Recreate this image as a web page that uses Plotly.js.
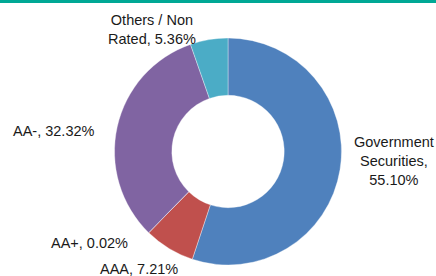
<!DOCTYPE html>
<html>
<head>
<meta charset="utf-8">
<script src="https://cdn.plot.ly/plotly-3.0.1.min.js"></script>
<style>
html,body{margin:0;padding:0;background:#fff;}
#chart{width:436px;height:276px;}
</style>
</head>
<body>
<div id="chart"></div>
<script>
var categories = ["Government Securities", "AAA", "AA+", "AA-", "Others / Non Rated"];
var values = [55.10, 7.21, 0.02, 32.32, 5.36];
var colors = ["#4F81BD", "#C0504D", "#E8B0B0", "#8064A2", "#4BACC6"];
var labelTexts = ["Government<br>Securities,", "AAA,", "AA+,", "AA-,", "Others / Non<br>Rated,"];
var labelJoin = ["<br>", " ", " ", " ", " "];
// label anchor positions in pixels (x, y from top)
var labelPos = [[394, 161], [139, 269], [89, 243], [54, 131], [152, 29]];

var W = 436, H = 276;
var annotations = categories.map(function (c, i) {
  return {
    text: labelTexts[i] + labelJoin[i] + values[i].toFixed(2) + "%",
    x: labelPos[i][0] / W, y: 1 - labelPos[i][1] / H,
    xref: "paper", yref: "paper",
    xanchor: "center", yanchor: "middle",
    showarrow: false, align: "center",
    font: {family: "Liberation Sans, Arial, sans-serif", size: 14.5, color: "#1a1a1a"}
  };
});
annotations.length; 

var shapes = [{
  type: "rect", xref: "paper", yref: "paper",
  x0: 0, x1: 1, y0: 1 - 3 / H, y1: 1,
  fillcolor: "#00A895", line: {width: 0}
}];

var data = [{
  type: "pie",
  labels: categories,
  values: values,
  sort: false,
  direction: "clockwise",
  rotation: 0,
  hole: 0.495,
  textinfo: "none",
  hoverinfo: "label+percent",
  marker: {colors: colors, line: {color: "rgba(255,255,255,0.6)", width: 0.6}},
  domain: {x: [0.2615, 0.7844], y: [0.0399, 0.8623]}
}];

var layout = {
  width: W, height: H,
  margin: {l: 0, r: 0, t: 0, b: 0},
  paper_bgcolor: "#ffffff",
  showlegend: false,
  annotations: annotations,
  shapes: shapes
};

Plotly.newPlot("chart", data, layout, {displayModeBar: false, staticPlot: true});
</script>
</body>
</html>
